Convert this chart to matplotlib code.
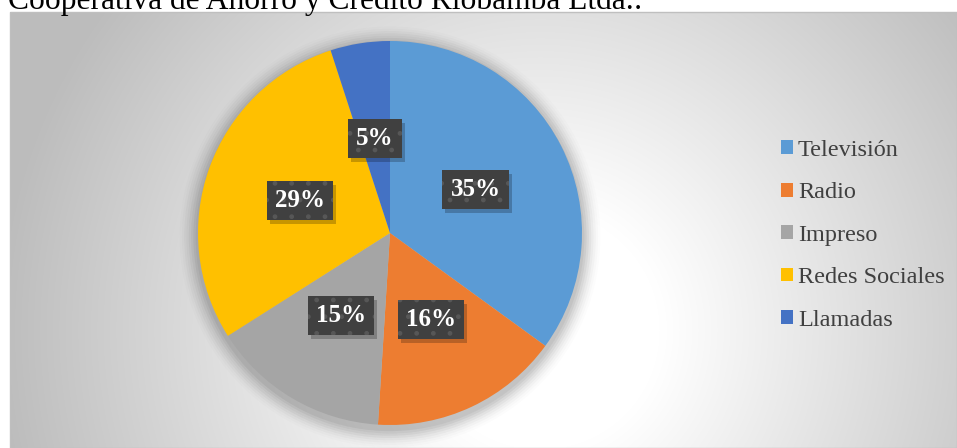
import numpy as np
import matplotlib.pyplot as plt
import matplotlib.transforms as mtransforms
from matplotlib.patches import Rectangle, Circle

categories = ["Televisión", "Radio", "Impreso", "Redes Sociales", "Llamadas"]
values = [35, 16, 15, 29, 5]
colors = ["#5B9BD5", "#ED7D31", "#A5A5A5", "#FFC000", "#4472C4"]
title = "Cooperativa de Ahorro y Crédito Riobamba Ltda.:"

plt.rcParams['font.family'] = ['Liberation Serif', 'DejaVu Serif']

W, H = 957, 448
fig = plt.figure(figsize=(W / 100, H / 100), dpi=100)

# chart area background: radial gradient, white in the middle, grey at the edges
x0, y0 = 10, 12  # top-left of chart area in pixels
bg = fig.add_axes([x0 / W, 0, (W - x0) / W, (H - y0) / H])
gx, gy = np.meshgrid(np.arange(x0, W), np.arange(y0, H))
d = np.hypot(gx - 540, gy - 330)
shade = 1 - 0.26 * np.clip((d - 120) / 420, 0, 1)
bg.imshow(np.dstack([shade] * 3), aspect='auto', extent=[0, 1, 0, 1], origin='upper')
bg.set_axis_off()
fig.patches.append(Rectangle((x0 / W, 0), (W - x0) / W - 0.0005, (H - y0) / H, transform=fig.transFigure,
                             fill=False, edgecolor='#bfbfbf', linewidth=1))

# pie
cx, cy, R = 390, 233, 192
ax = fig.add_axes([(cx - R) / W, (H - cy - R) / H, 2 * R / W, 2 * R / H])

# soft shadow under the pie
for i, a in enumerate(np.linspace(0.05, 0.012, 8)):
    ax.add_patch(Circle((0.0, -0.02), 1.0 + 0.012 * (i + 1), color='black', alpha=a, lw=0,
                        zorder=0, clip_on=False))

wedges, texts, autotexts = ax.pie(values, colors=colors, startangle=90, counterclock=False,
                                  autopct='%1.0f%%', pctdistance=0.5,
                                  wedgeprops=dict(linewidth=0, clip_on=False))
ax.set_xlim(-1, 1)
ax.set_ylim(-1, 1)
ax.set_aspect('equal')
ax.set_axis_off()

plt.rcParams['hatch.linewidth'] = 1.0
for t in autotexts:
    x, y = t.get_position()
    # box shadow
    ax.text(x, y, t.get_text(), fontsize=18, fontweight='bold', color='none',
            ha='center', va='center', zorder=3,
            transform=ax.transData + mtransforms.ScaledTranslation(3 / 100, -4 / 100, fig.dpi_scale_trans),
            bbox=dict(boxstyle='square,pad=0.32', facecolor='black', alpha=0.22, linewidth=0))
    t.set_fontsize(18)
    t.set_fontweight('bold')
    t.set_color('white')
    t.set_zorder(4)
    t.set_bbox(dict(boxstyle='square,pad=0.32', facecolor='#404040', edgecolor='#575757',
                    linewidth=0, hatch='.'))

# legend
fig.legend(wedges, categories, loc='upper left', bbox_to_anchor=(781 / W, 1 - 140 / H),
           frameon=False, fontsize=17.5, labelcolor='#404040', handlelength=0.5, handleheight=0.5,
           handletextpad=0.2, labelspacing=0.88, borderpad=0, borderaxespad=0)

# title, cut off by the top of the image
fig.text(8 / W, 1 - 9 / H, title, fontsize=22.7, color='black', ha='left', va='baseline')

fig.savefig('out.png', dpi=100)
